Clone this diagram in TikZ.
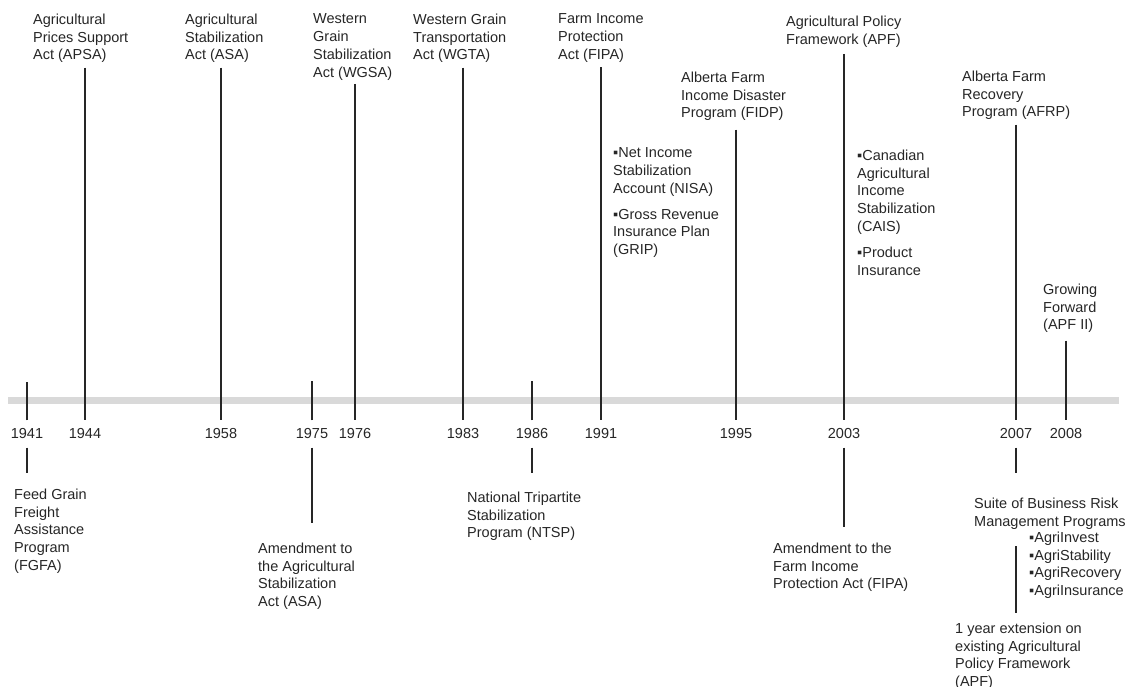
\documentclass[tikz,border=0pt]{standalone}
\usepackage{fontspec}
\setmainfont{Liberation Sans}
\usepackage{tikz}
\usetikzlibrary{positioning, calc}
\definecolor{barcol}{HTML}{D9D9D9}
\definecolor{inkcol}{HTML}{262626}
\tikzstyle{evtext} = [anchor=north west, align=left, inner sep=0pt, text=inkcol, font=\fontsize{14.5}{17.8}\selectfont]
\tikzstyle{yearlbl} = [inner sep=0pt, outer sep=8.5pt, text=inkcol, font=\fontsize{14.5}{17.8}\selectfont]
\tikzstyle{stemline} = [draw=inkcol, line width=1.1pt]
\tikzstyle{timebar} = [draw=barcol, line width=7pt]

\begin{document}
\begin{tikzpicture}[x=1pt, y=-1pt]
\useasboundingbox (0,0) rectangle (1129,687);
% timeline bar
\draw [timebar] (8,400.5) -- (1119,400.5);

% years
\node (y1941) [yearlbl] at (27,434) {1941};
\node (y1944) [yearlbl] at (85,434) {1944};
\node (y1958) [yearlbl] at (221,434) {1958};
\node (y1975) [yearlbl] at (312,434) {1975};
\node (y1976) [yearlbl] at (355,434) {1976};
\node (y1983) [yearlbl] at (463,434) {1983};
\node (y1986) [yearlbl] at (532,434) {1986};
\node (y1991) [yearlbl] at (601,434) {1991};
\node (y1995) [yearlbl] at (736,434) {1995};
\node (y2003) [yearlbl] at (844,434) {2003};
\node (y2007) [yearlbl] at (1016,434) {2007};
\node (y2008) [yearlbl] at (1066,434) {2008};

% events above the bar
\node (e1944) [evtext] at (33,13.5) {Agricultural\\Prices Support\\Act (APSA)};
\node (e1958) [evtext] at (185,13.5) {Agricultural\\Stabilization\\Act (ASA)};
\node (e1976) [evtext] at (313,13.5) {Western\\Grain\\Stabilization\\Act (WGSA)};
\node (e1983) [evtext] at (413,13.5) {Western Grain\\Transportation\\Act (WGTA)};
\node (e1991) [evtext] at (558,13.5) {Farm Income\\Protection\\Act (FIPA)};
\node (l1991) [evtext] at (613,147.5) {▪Net Income\\Stabilization\\Account (NISA)\\[8pt]▪Gross Revenue\\Insurance Plan\\(GRIP)};
\node (e1995) [evtext] at (681,71.5) {Alberta Farm\\Income Disaster\\Program (FIDP)};
\node (e2003) [evtext] at (786,15.5) {Agricultural Policy\\Framework (APF)};
\node (l2003) [evtext] at (857,149.5) {▪Canadian\\Agricultural\\Income\\Stabilization\\(CAIS)\\[8pt]▪Product\\Insurance};
\node (e2007) [evtext] at (962,70.5) {Alberta Farm\\Recovery\\Program (AFRP)};
\node (e2008) [evtext] at (1043,283.5) {Growing\\Forward\\(APF II)};

% events below the bar
\node (b1941) [evtext] at (14,488.5) {Feed Grain\\Freight\\Assistance\\Program\\(FGFA)};
\node (b1975) [evtext] at (258,542.5) {Amendment to\\the Agricultural\\Stabilization\\Act (ASA)};
\node (b1986) [evtext] at (467,491.5) {National Tripartite\\Stabilization\\Program (NTSP)};
\node (b2003) [evtext] at (773,542.5) {Amendment to the\\Farm Income\\Protection Act (FIPA)};
\node (b2007) [evtext] at (974,497.5) {Suite of Business Risk\\Management Programs};
\node (l2007) [evtext] at (1029,531.5) {▪AgriInvest\\▪AgriStability\\▪AgriRecovery\\▪AgriInsurance};
\node (c2007) [evtext] at (955,622.5) {1 year extension on\\existing Agricultural\\Policy Framework\\(APF)};

% stems above
\draw [stemline] (y1941.north) -- ++(0,-38);
\draw [stemline, shorten <=4.7pt] (e1944.south -| y1944) -- (y1944.north);
\draw [stemline, shorten <=4.7pt] (e1958.south -| y1958) -- (y1958.north);
\draw [stemline] (y1975.north) -- ++(0,-39);
\draw [stemline, shorten <=3.7pt] (e1976.south -| y1976) -- (y1976.north);
\draw [stemline, shorten <=4.7pt] (e1983.south -| y1983) -- (y1983.north);
\draw [stemline] (y1986.north) -- ++(0,-39);
\draw [stemline, shorten <=4.7pt] (e1991.south -| y1991) -- (y1991.north);
\draw [stemline, shorten <=8.7pt] (e1995.south -| y1995) -- (y1995.north);
\draw [stemline, shorten <=6.7pt] (e2003.south -| y2003) -- (y2003.north);
\draw [stemline, shorten <=4.7pt] (e2007.south -| y2007) -- (y2007.north);
\draw [stemline, shorten <=7.7pt] (e2008.south -| y2008) -- (y2008.north);

% stems below
\draw [stemline, shorten >=15.5pt] (y1941.south) -- (b1941.north -| y1941);
\draw [stemline, shorten >=19.5pt] (y1975.south) -- (b1975.north -| y1975);
\draw [stemline, shorten >=18.5pt] (y1986.south) -- (b1986.north -| y1986);
\draw [stemline, shorten >=15.5pt] (y2003.south) -- (b2003.north -| y2003);
\draw [stemline, shorten >=24.5pt] (y2007.south) -- (b2007.north -| y2007);
\draw [stemline, shorten <=17pt, shorten >=10pt] (b2007.south -| y2007) -- (c2007.north -| y2007);
\end{tikzpicture}
\end{document}
